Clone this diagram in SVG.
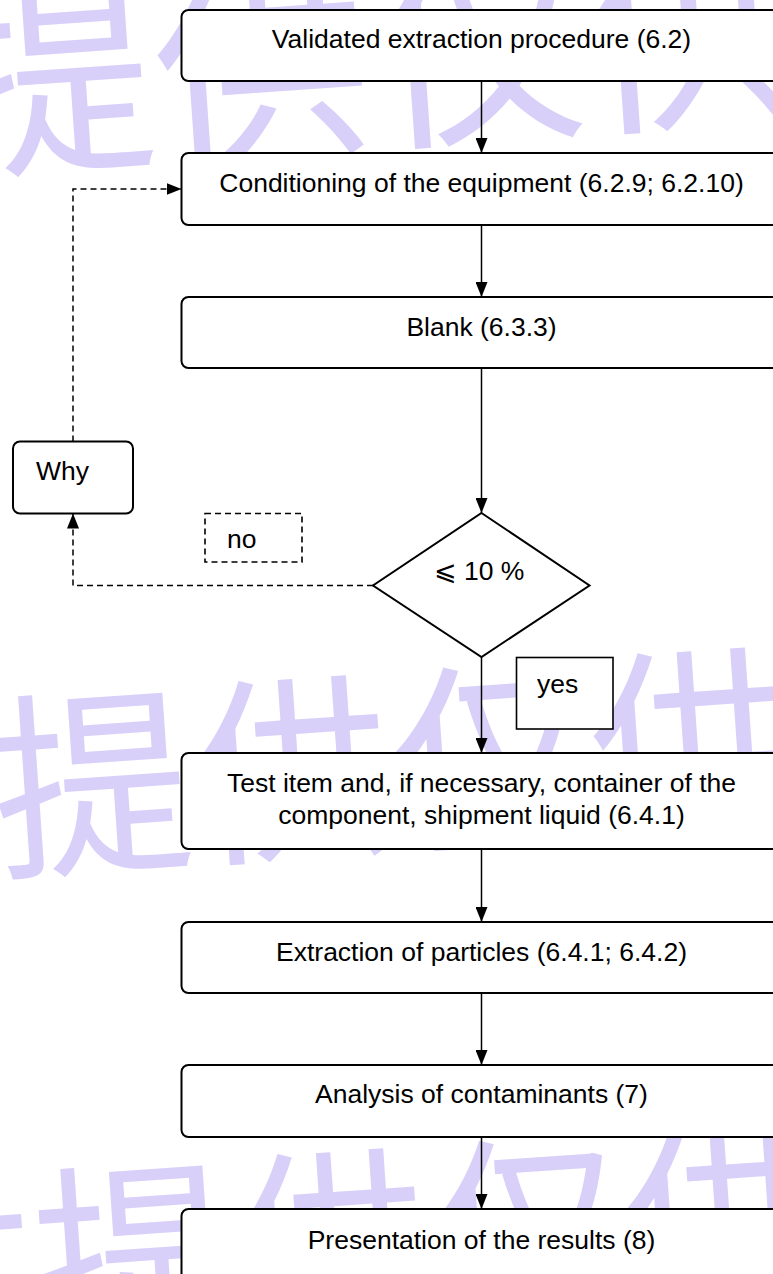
<svg xmlns="http://www.w3.org/2000/svg" width="773" height="1274" viewBox="0 0 773 1274">
  <defs>
    <style>
      .wm { font-family: "Noto Sans CJK SC", "Noto Sans CJK JP", sans-serif; fill: #d9d0fa; }
      .box { fill: #ffffff; stroke: #000000; stroke-width: 2; }
      .tag { fill: #ffffff; stroke: #000000; stroke-width: 1.6; }
      .lbl { font-family: "Liberation Sans", Arial, sans-serif; font-size: 26.5px; fill: #000000; }
      .mid { text-anchor: middle; }
      .flow { fill: none; stroke: #000000; stroke-width: 1.5; }
      .dash { stroke-dasharray: 6 4; }
    </style>
    <marker id="arrow" markerUnits="userSpaceOnUse" markerWidth="15" markerHeight="12" refX="15" refY="6" orient="auto">
      <path d="M0,0 L15,6 L0,12 Z" fill="#000000"/>
    </marker>
  </defs>

  <rect width="773" height="1274" fill="#ffffff"/>

  <!-- background watermark -->
  <g id="watermark">
    <text class="wm" x="-55" y="165" font-size="215" transform="rotate(-4 -55 165)">提供仅供</text>
    <text class="wm" x="-3" y="866" font-size="200" transform="rotate(-4 -3 866)">提供仅供</text>
    <text class="wm" x="-157" y="1350" font-size="197" transform="rotate(-4 -157 1350)">供提供仅供</text>
  </g>

  <!-- connectors -->
  <g id="connectors">
    <line class="flow" x1="481.5" y1="81" x2="481.5" y2="153" marker-end="url(#arrow)"/>
    <line class="flow" x1="481.5" y1="225" x2="481.5" y2="297" marker-end="url(#arrow)"/>
    <line class="flow" x1="481.5" y1="368" x2="481.5" y2="513" marker-end="url(#arrow)"/>
    <line class="flow" x1="481.5" y1="657" x2="481.5" y2="753" marker-end="url(#arrow)"/>
    <line class="flow" x1="481.5" y1="849" x2="481.5" y2="922" marker-end="url(#arrow)"/>
    <line class="flow" x1="481.5" y1="993" x2="481.5" y2="1065" marker-end="url(#arrow)"/>
    <line class="flow" x1="481.5" y1="1137" x2="481.5" y2="1209" marker-end="url(#arrow)"/>
    <!-- "no" branch back to Why -->
    <polyline class="flow dash" points="373,585.5 73,585.5 73,513.5" marker-end="url(#arrow)"/>
    <!-- Why loops back to conditioning -->
    <polyline class="flow dash" points="73,441.5 73,189 181.5,189" marker-end="url(#arrow)"/>
  </g>

  <g id="validated">
    <rect class="box" x="181.5" y="10" width="601" height="71" rx="7"/>
    <text class="lbl mid" x="481.5" y="48">Validated extraction procedure (6.2)</text>
  </g>

  <g id="conditioning">
    <rect class="box" x="181.5" y="153" width="601" height="72" rx="7"/>
    <text class="lbl mid" x="481.5" y="192">Conditioning of the equipment (6.2.9; 6.2.10)</text>
  </g>

  <g id="blank">
    <rect class="box" x="181.5" y="297" width="601" height="71" rx="7"/>
    <text class="lbl mid" x="481.5" y="336">Blank (6.3.3)</text>
  </g>

  <g id="why">
    <rect class="box" x="13" y="441.5" width="120" height="72" rx="7"/>
    <text class="lbl" x="36" y="480">Why</text>
  </g>

  <g id="no-label">
    <rect class="tag dash" x="205" y="513.5" width="97" height="48.5"/>
    <text class="lbl" x="227" y="548">no</text>
  </g>

  <g id="decision">
    <polygon class="box" points="481.5,513 589.5,585.5 481.5,657 373,585.5"/>
    <text class="lbl mid" x="479" y="580">⩽ 10 %</text>
  </g>

  <g id="yes-label">
    <rect class="tag" x="516.5" y="657.5" width="96.5" height="71.5"/>
    <text class="lbl" x="537" y="693">yes</text>
  </g>

  <g id="test-item">
    <rect class="box" x="181.5" y="753" width="601" height="96" rx="7"/>
    <text class="lbl mid" x="481.5" y="792">Test item and, if necessary, container of the</text>
    <text class="lbl mid" x="481.5" y="824">component, shipment liquid (6.4.1)</text>
  </g>

  <g id="extraction">
    <rect class="box" x="181.5" y="922" width="601" height="71" rx="7"/>
    <text class="lbl mid" x="481.5" y="961">Extraction of particles (6.4.1; 6.4.2)</text>
  </g>

  <g id="analysis">
    <rect class="box" x="181.5" y="1065" width="601" height="72" rx="7"/>
    <text class="lbl mid" x="481.5" y="1103">Analysis of contaminants (7)</text>
  </g>

  <g id="presentation">
    <rect class="box" x="181.5" y="1209" width="601" height="72" rx="7"/>
    <text class="lbl mid" x="481.5" y="1249">Presentation of the results (8)</text>
  </g>
</svg>
